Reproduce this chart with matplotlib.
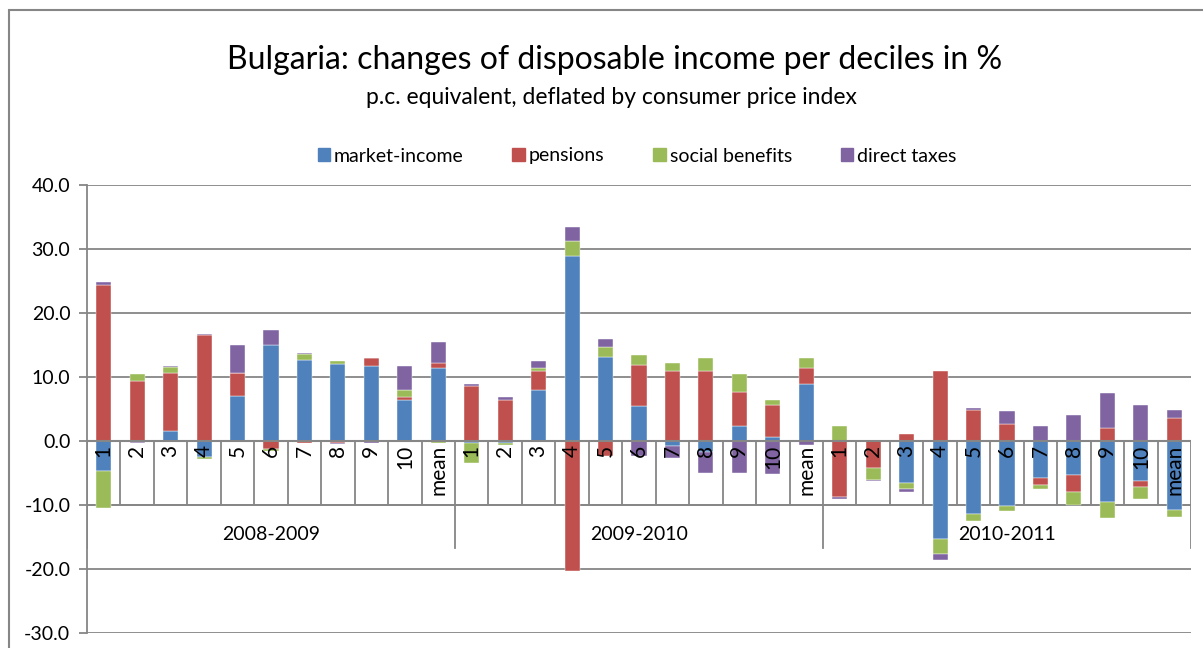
import matplotlib
matplotlib.use("Agg")
import matplotlib.pyplot as plt
import matplotlib.patches as mpatches
import numpy as np

plt.rcParams["font.family"] = ["Lato", "DejaVu Sans"]

# ── data ────────────────────────────────────────────────────────────────
periods = ["2008-2009", "2009-2010", "2010-2011"]
deciles = ["1", "2", "3", "4", "5", "6", "7", "8", "9", "10", "mean"]

series_names = ["market-income", "pensions", "social benefits", "direct taxes"]
colors = ["#4F81BD", "#C0504D", "#9BBB59", "#8064A2"]

market = [
    -4.7, -0.1, 1.6, -2.5, 7.1, 15.05, 12.7, 12.0, 11.7, 6.45, 11.4,
    -0.3, -0.3, 7.9, 28.85, 13.2, 5.4, -0.75, -1.7, 2.35, 0.6, 8.95,
    0.0, 0.0, -6.5, -15.35, -11.45, -10.2, -5.75, -5.25, -9.5, -6.25, -10.75,
]
pensions = [
    24.3, 9.4, 9.1, 16.5, 3.5, -1.3, -0.3, -0.3, 1.25, 0.4, 0.8,
    8.6, 6.35, 3.0, -20.3, -2.4, 6.55, 10.9, 10.9, 5.3, 4.95, 2.45,
    -8.75, -4.15, 1.15, 10.95, 4.9, 2.6, -1.05, -2.7, 2.1, -0.95, 3.6,
]
social = [
    -5.8, 1.0, 0.8, -0.3, 0.0, -0.3, 0.85, 0.45, 0.0, 1.05, -0.3,
    -3.1, -0.3, 0.5, 2.35, 1.45, 1.5, 1.35, 2.1, 2.8, 0.85, 1.55,
    2.3, -1.9, -1.05, -2.35, -1.05, -0.8, -0.75, -2.0, -2.55, -1.8, -1.05,
]
taxes = [
    0.5, -0.2, 0.25, 0.25, 4.4, 2.25, 0.2, -0.2, -0.3, 3.8, 3.3,
    0.35, 0.5, 1.05, 2.25, 1.3, -2.4, -1.9, -3.3, -5.0, -5.2, -0.6,
    -0.25, -0.2, -0.4, -0.85, 0.25, 2.1, 2.35, 4.1, 5.4, 5.7, 1.3,
]

# ── figure ──────────────────────────────────────────────────────────────
fig = plt.figure(figsize=(12.03, 6.48), dpi=100)
ax = fig.add_axes([87 / 1203, 1 - 633 / 648, (1191 - 87) / 1203, (633 - 185) / 648])

n = len(periods) * len(deciles)
x = np.arange(n)
grid_col = "#868686"

# Excel-style stacking: positives and negatives stacked separately
pos_bottom = np.zeros(n)
neg_bottom = np.zeros(n)
for vals, name, col in zip([market, pensions, social, taxes], series_names, colors):
    v = np.array(vals)
    bottom = np.where(v >= 0, pos_bottom, neg_bottom)
    ax.bar(x, v, width=0.45, bottom=bottom, color=col, label=name,
           edgecolor="white", linewidth=0.3, zorder=2)
    pos_bottom += np.where(v >= 0, v, 0)
    neg_bottom += np.where(v < 0, v, 0)

ax.set_xlim(-0.5, n - 0.5)
ax.set_ylim(-30, 40)
ax.set_yticks(np.arange(-30, 41, 10))
ax.set_yticklabels([f"{t:.1f}" for t in np.arange(-30, 41, 10)], fontsize=14)
ax.set_xticks([])
ax.yaxis.grid(True, color=grid_col, linewidth=1.3, zorder=0)
ax.set_axisbelow(True)
ax.tick_params(axis="y", length=6, width=1.3, color=grid_col, pad=6)
for s in ["top", "right", "bottom"]:
    ax.spines[s].set_visible(False)
ax.spines["left"].set_color(grid_col)
ax.spines["left"].set_linewidth(1.3)

# zero axis line
ax.axhline(0, color=grid_col, linewidth=1.5, zorder=2.5)

# category boxes
box_bot = -10
grp_bot = -16.7
ax.plot([-0.5, n - 0.5], [box_bot, box_bot], color=grid_col, lw=1.3, zorder=1.5)
for b in range(n + 1):
    xb = b - 0.5
    y1 = grp_bot if b % len(deciles) == 0 else box_bot
    ax.plot([xb, xb], [0, y1], color=grid_col, lw=1.3, zorder=1.5)

for i in range(n):
    ax.text(i, -0.6, deciles[i % len(deciles)], rotation=90, ha="center", va="top",
            fontsize=15, zorder=3)

for g, p in enumerate(periods):
    xc = g * len(deciles) + (len(deciles) - 1) / 2
    ax.text(xc, -14.6, p, ha="center", va="center", fontsize=14, zorder=3)

# titles
fig.text(0.511, 1 - 60 / 648, "Bulgaria: changes of disposable income per deciles in %",
         ha="center", va="center", fontsize=23)
fig.text(0.508, 1 - 97 / 648, "p.c. equivalent, deflated by consumer price index",
         ha="center", va="center", fontsize=16.5)

handles = [mpatches.Patch(color=c, label=nm) for c, nm in zip(colors, series_names)]
fig.legend(handles=handles, loc="center", bbox_to_anchor=(637 / 1203, 1 - 156 / 648),
           ncol=4, frameon=False, fontsize=14, handlelength=0.65, handleheight=0.65,
           handletextpad=0.2, columnspacing=2.5)

# chart-area border
fig.patches.append(mpatches.Rectangle((9 / 1203, -0.05), 1.2, 1 - 10 / 648 + 0.05,
                                      transform=fig.transFigure, fill=False,
                                      edgecolor=grid_col, linewidth=1.5))

fig.savefig("out.png", dpi=100)
